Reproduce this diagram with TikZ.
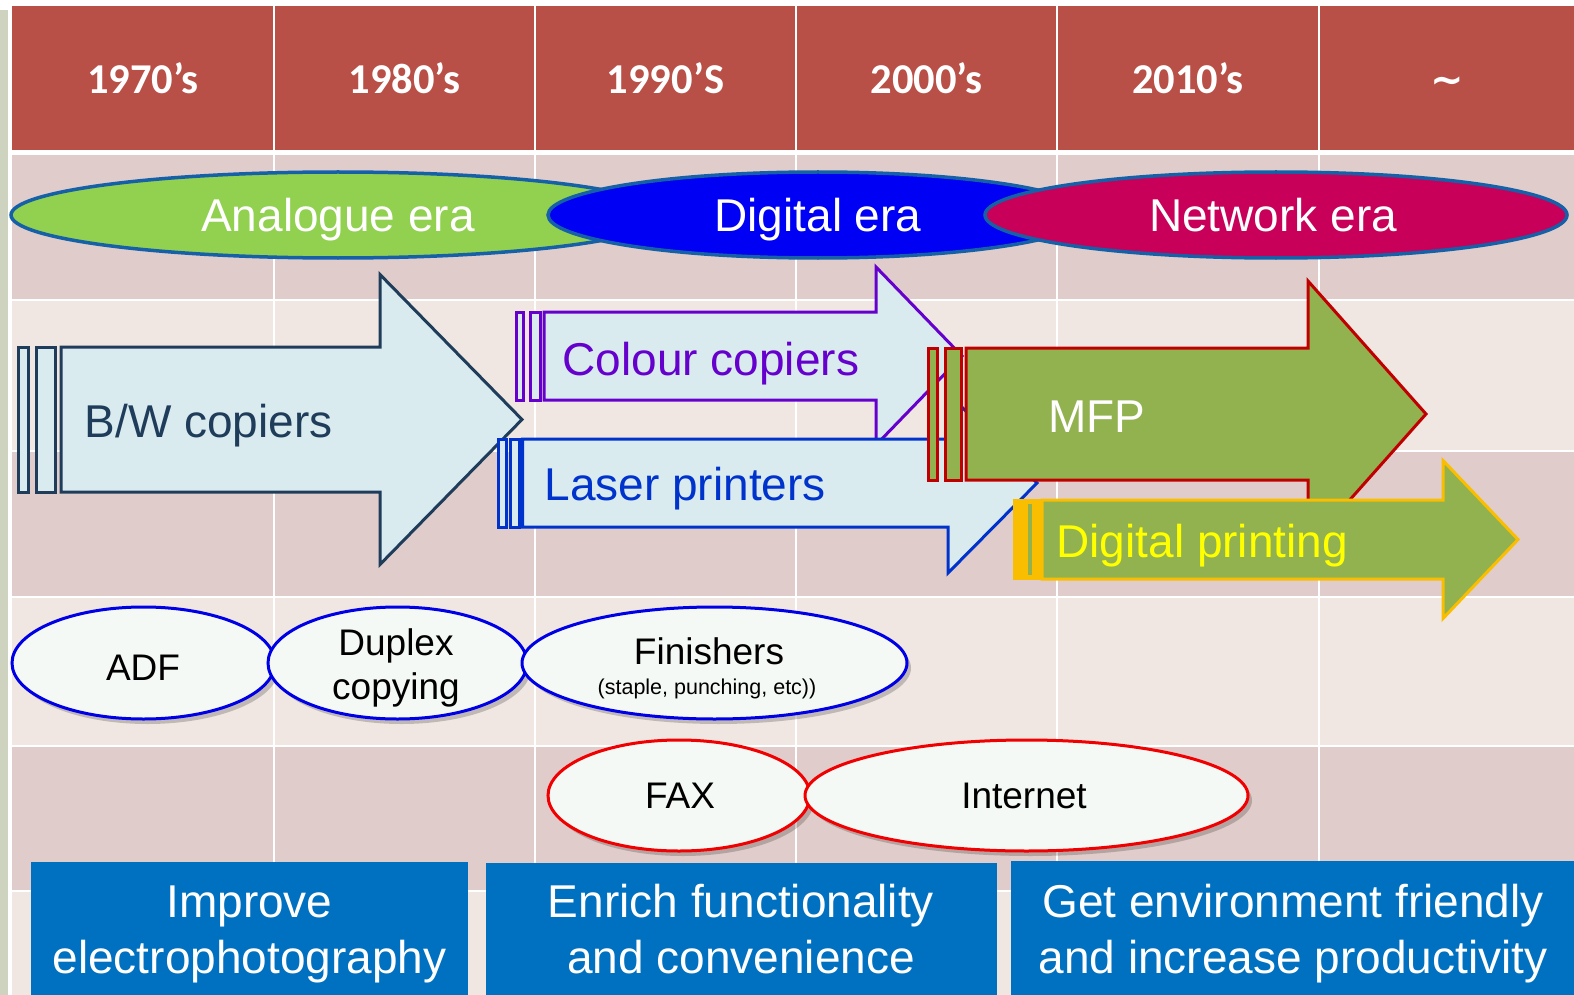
\documentclass[tikz,border=0pt]{standalone}
\usepackage{fontspec}
\setmainfont{Liberation Sans}
\newfontfamily\hdrfont{Carlito}
\newfontfamily\tildefont{DejaVu Sans}
\usetikzlibrary{shapes.geometric,shadows}

\definecolor{hdrred}{RGB}{185,80,71}
\definecolor{rowdark}{RGB}{224,204,202}
\definecolor{rowlight}{RGB}{240,231,226}
\definecolor{stripcol}{RGB}{205,211,190}
\definecolor{anagreen}{RGB}{146,208,80}
\definecolor{digblue}{RGB}{0,0,245}
\definecolor{netred}{RGB}{200,0,90}
\definecolor{eraline}{RGB}{22,96,168}
\definecolor{arrfill}{RGB}{218,235,240}
\definecolor{bwline}{RGB}{31,61,90}
\definecolor{colpurple}{RGB}{102,0,204}
\definecolor{lasblue}{RGB}{0,51,204}
\definecolor{mfpfill}{RGB}{146,178,80}
\definecolor{mfpline}{RGB}{192,0,0}
\definecolor{dpline}{RGB}{250,190,0}
\definecolor{dptext}{RGB}{255,255,0}
\definecolor{featfill}{RGB}{245,249,245}
\definecolor{featblue}{RGB}{0,0,230}
\definecolor{featred}{RGB}{240,0,0}
\definecolor{boxblue}{RGB}{0,112,192}

\newcommand\fatarrow[7]{% style, body x, shaft end x, tip x, top y, bottom y, head half height
  \draw[#1] ({#2},{#5}) -- ({#3},{#5}) -- ({#3},{(#5+#6)/2-#7}) -- ({#4},{(#5+#6)/2})
    -- ({#3},{(#5+#6)/2+#7}) -- ({#3},{#6}) -- ({#2},{#6}) -- cycle;}

\tikzset{
  eraell/.style={ellipse, draw=eraline, line width=3.5pt, inner sep=0pt},
  eratext/.style={anchor=base, text=white, font=\fontsize{46}{50}\selectfont},
  arrtext/.style={anchor=base west, font=\fontsize{46}{50}\selectfont},
  featell/.style={ellipse, fill=featfill, line width=3pt, inner sep=0pt,
    drop shadow={shadow xshift=4pt, shadow yshift=-5pt, fill=black, opacity=0.2}},
  feattext/.style={anchor=base, font=\fontsize{37}{40}\selectfont},
  smalltext/.style={anchor=base, font=\fontsize{21.5}{24}\selectfont},
  hdrtext/.style={anchor=base, text=white, font=\hdrfont\bfseries\fontsize{42.5}{46}\selectfont},
  boxtext/.style={anchor=base, text=white, font=\fontsize{46}{50}\selectfont},
  bwarr/.style={fill=arrfill, draw=bwline, line width=3pt},
  colarr/.style={fill=arrfill, draw=colpurple, line width=3pt},
  lasarr/.style={fill=arrfill, draw=lasblue, line width=3pt},
  mfparr/.style={fill=mfpfill, draw=mfpline, line width=3pt},
  dparr/.style={fill=mfpfill, draw=dpline, line width=3pt},
  gridline/.style={white, line width=2pt},
}

\begin{document}
\begin{tikzpicture}[x=1pt,y=-1pt]
\useasboundingbox (0,0) rectangle (1574,995);
\fill[white] (0,0) rectangle (1574,995);
% left strip
\fill[stripcol] (0,10) rectangle (8,995);
% header
\fill[hdrred] (12,6) rectangle (1574,150);
% rows
\fill[rowlight] (12,155) rectangle (1574,995);
\fill[rowdark] (12,155) rectangle (1574,300);
\fill[rowdark] (12,451) rectangle (1574,597);
\fill[rowdark] (12,746) rectangle (1574,891);
\foreach \yy in {300,451,597,746,891} \draw[gridline] (12,\yy) -- (1574,\yy);
\foreach \xx in {274,535,796,1057,1319} \draw[gridline] (\xx,6) -- (\xx,995);

% header texts
\node[hdrtext] (h1) at (143,94) {1970’s};
\node[hdrtext] (h2) at (404.5,94) {1980’s};
\node[hdrtext] (h3) at (665.5,94) {1990’S};
\node[hdrtext] (h4) at (926.5,94) {2000’s};
\node[hdrtext] (h5) at (1188,94) {2010’s};
\node[anchor=base, text=white, font=\tildefont\bfseries\fontsize{40}{44}\selectfont] (h6) at (1447,94) {\textasciitilde};

% era ellipses
\node[eraell, fill=anagreen, minimum width=654pt, minimum height=86pt] (ana) at (338,215) {};
\node[eratext] (anat) at (338,232) {Analogue era};
\node[eraell, fill=digblue, minimum width=540pt, minimum height=86pt] (dig) at (818,215) {};
\node[eratext] (digt) at (818,232) {Digital era};
\node[eraell, fill=netred, minimum width=582pt, minimum height=86pt] (net) at (1276,215) {};
\node[eratext] (nett) at (1273,232) {Network era};

% B/W copiers
\draw[bwarr] (18,347) rectangle (28,492);
\draw[bwarr] (36,347) rectangle (55,492);
\fatarrow{bwarr}{61}{380}{522}{347}{492}{145}
\node[arrtext, text=bwline] (bwt) at (81,437) {B/W copiers};

% Colour copiers
\draw[colarr] (516.5,312) rectangle (523.5,400);
\draw[colarr] (530,312) rectangle (540,400);
\fatarrow{colarr}{544}{876}{962}{312}{400}{89}
\node[arrtext, text=colpurple] (colt) at (559,375) {Colour copiers};

% Laser printers
\draw[lasarr] (498.5,439) rectangle (506.5,527);
\draw[lasarr] (510.5,439) rectangle (519,527);
\fatarrow{lasarr}{522.5}{948}{1037}{439}{527}{90}
\node[arrtext, text=lasblue] (last) at (541,500) {Laser printers};

% MFP
\draw[mfparr] (928.5,348) rectangle (937.5,480);
\draw[mfparr] (945.5,348) rectangle (961.5,480);
\fatarrow{mfparr}{966}{1308}{1426}{348}{480}{133}
\node[arrtext, text=white] (mfpt) at (1045,432) {MFP};

% Digital printing
\fill[dpline] (1013,499) rectangle (1043,580);
\fill[mfpfill] (1028,504) rectangle (1032,575);
\fatarrow{dparr}{1042}{1443}{1518}{500}{579}{79}
\node[arrtext, text=dptext] (dpt) at (1053,557) {Digital printing};

% feature ellipses
\node[featell, draw=featblue, minimum width=263pt, minimum height=112pt] (adf) at (143.5,663) {};
\node[feattext] (adft) at (143,680) {ADF};
\node[featell, draw=featblue, minimum width=259pt, minimum height=112pt] (dup) at (397.5,663) {};
\node[feattext] (dupt1) at (396,655) {Duplex};
\node[feattext] (dupt2) at (396,699) {copying};
\node[featell, draw=featblue, minimum width=385pt, minimum height=112pt] (fin) at (714.5,663) {};
\node[feattext] (fint1) at (709,664) {Finishers};
\node[smalltext] (fint2) at (707,694) {(staple, punching, etc))};

\node[featell, draw=featred, minimum width=262pt, minimum height=111pt] (fax) at (679,795.5) {};
\node[feattext] (faxt) at (680,808) {FAX};
\node[featell, draw=featred, minimum width=443pt, minimum height=111pt] (inet) at (1026.5,795.5) {};
\node[feattext] (inett) at (1024,808) {Internet};

% bottom boxes
\fill[boxblue] (31,862) rectangle (468,995);
\fill[boxblue] (486,863) rectangle (997,995);
\fill[boxblue] (1011,861) rectangle (1574,995);
\node[boxtext] (b1a) at (249.5,917) {Improve};
\node[boxtext] (b1b) at (249.5,973) {electrophotography};
\node[boxtext] (b2a) at (741,917) {Enrich functionality};
\node[boxtext] (b2b) at (741,973) {and convenience};
\node[boxtext] (b3a) at (1293,917) {Get environment friendly};
\node[boxtext] (b3b) at (1293,973) {and increase productivity};
\end{tikzpicture}
\end{document}
